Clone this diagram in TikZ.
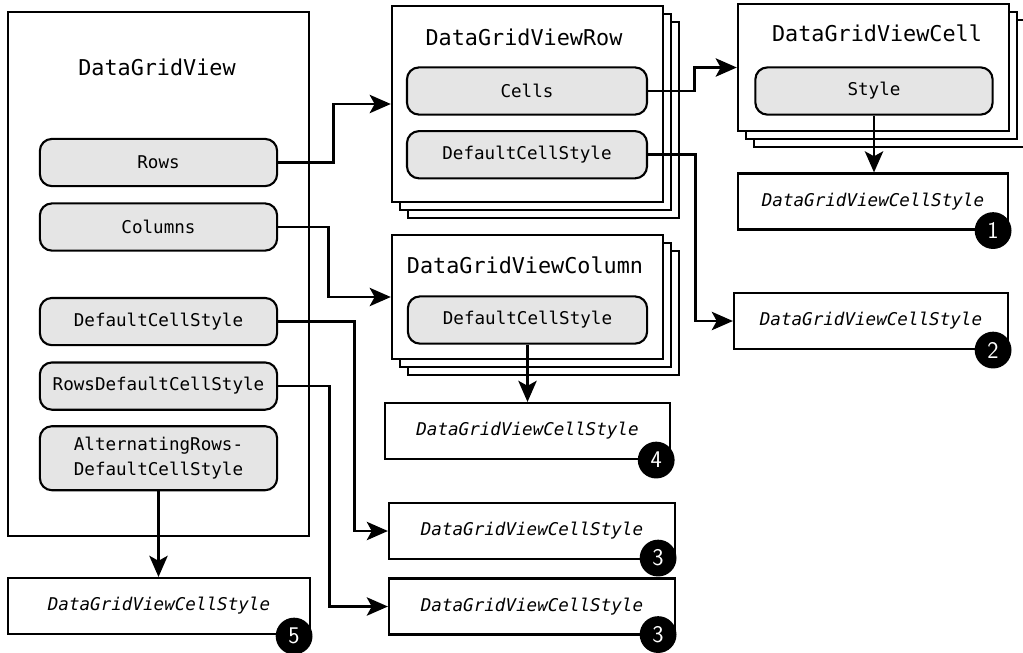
\documentclass[tikz,border=0pt]{standalone}
\usepackage{fontspec}
\setmonofont{DejaVu Sans Mono}
\usetikzlibrary{arrows.meta, positioning, shadows, calc}

\tikzset{
  marco/.style={draw, line width=1.5pt, fill=white, inner sep=0pt},
  pila/.style={marco, minimum width=6.78cm,
    copy shadow={shadow xshift=0.4cm, shadow yshift=-0.4cm, line width=1.5pt},
    copy shadow={shadow xshift=0.2cm, shadow yshift=-0.2cm, line width=1.5pt}},
  titulo/.style={font=\ttfamily\fontsize{15.5}{18}\selectfont},
  pastilla/.style={draw, line width=1.5pt, rounded corners=0.3cm, fill=gray!20,
    minimum width=5.93cm, minimum height=1.18cm, align=center,
    font=\ttfamily\fontsize{12.5}{17.8}\selectfont},
  estilo/.style={draw, line width=1.5pt, fill=white, minimum height=1.4cm,
    font=\ttfamily\itshape\fontsize{12.5}{15}\selectfont},
  num/.style={circle, fill=black, text=white, minimum size=0.92cm, inner sep=0pt,
    font=\sffamily\fontsize{17}{17}\selectfont},
  flecha/.style={line width=2pt, -{Stealth[length=15pt, width=13pt, inset=3.5pt]}}
}

\begin{document}
\begin{tikzpicture}[x=0.025cm, y=-0.025cm]
  \useasboundingbox (0,0) rectangle (1023,652);
  % DataGridView a la izquierda
  \node[marco, minimum width=7.53cm, minimum height=13.1cm] (dgv) at (158.5,274) {};
  \node[titulo] (dgvt) at (157,67) {DataGridView};
  \node[pastilla] (rows) at (158.5,162.5) {Rows};
  \node[pastilla, below=0.38cm of rows] (cols) {Columns};
  \node[pastilla, below=1.13cm of cols] (dcs) {DefaultCellStyle};
  \node[pastilla, below=0.38cm of dcs] (rdcs) {RowsDefaultCellStyle};
  \node[pastilla, below=0.36cm of rdcs, minimum height=1.6cm] (alt)
       {AlternatingRows-\\DefaultCellStyle};
  % pila de filas
  \node[pila, minimum height=4.9cm] (row) at (527.5,104) {};
  \node[titulo] (rowt) at (524,37) {DataGridViewRow};
  \node[pastilla, minimum width=6cm] (cells) at (527,91) {Cells};
  \node[pastilla, minimum width=6cm, below=0.36cm of cells] (rdef) {DefaultCellStyle};
  % pila de columnas
  \node[pila, minimum height=3.1cm] (col) at (527.5,297) {};
  \node[titulo] (colt) at (525,265) {DataGridViewColumn};
  \node[pastilla, minimum width=5.98cm] (cdef) at (527.5,320) {DefaultCellStyle};
  % pila de celdas
  \node[pila, minimum height=3.18cm] (cell) at (873.5,67.5) {};
  \node[titulo] (cellt) at (877,33) {DataGridViewCell};
  \node[pastilla] (style) at (874,91) {Style};
  % cajas de estilo
  \node[estilo, minimum width=6.75cm] (s1) at (873,201.5) {DataGridViewCellStyle};
  \node[estilo, minimum width=6.85cm] (s2) at (871,321) {DataGridViewCellStyle};
  \node[estilo, minimum width=7.13cm] (s4) at (527.5,431) {DataGridViewCellStyle};
  \node[estilo, minimum width=7.15cm] (s3a) at (532,531) {DataGridViewCellStyle};
  \node[estilo, minimum width=7.15cm] (s3b) at (532,606.5) {DataGridViewCellStyle};
  \node[estilo, minimum width=7.55cm] (s5) at (159,606) {DataGridViewCellStyle};
  % numeros
  \node[num] (n1) at ($(s1.south east)+(-16,0)$) {1};
  \node[num] (n2) at ($(s2.south east)+(-16,0)$) {2};
  \node[num] (n4) at ($(s4.south east)+(-15,0)$) {4};
  \node[num] (n3a) at ($(s3a.south east)+(-18,-2)$) {3};
  \node[num] (n3b) at ($(s3b.south east)+(-18,-1)$) {3};
  \node[num] (n5) at ($(s5.south east)+(-17,1)$) {5};
  % flechas
  \draw[flecha] (rows.east) -- ++(55,0) |- (row.west);
  \draw[flecha] (cols.east) -- ++(50,0) |- (col.west);
  \draw[flecha] (dcs.east) -- ++(76,0) |- (s3a.west);
  \draw[flecha] (rdcs.east) -- ++(51,0) |- (s3b.west);
  \draw[flecha] (alt.south) -- (alt.south |- s5.north);
  \draw[flecha] (cells.east) -- ++(46,0) |- (cell.west);
  \draw[flecha] (rdef.east) -- ++(47,0) |- (s2.west);
  \draw[flecha] (style.south) -- (style.south |- s1.north);
  \draw[flecha] (cdef.south) -- (cdef.south |- s4.north);
\end{tikzpicture}
\end{document}
